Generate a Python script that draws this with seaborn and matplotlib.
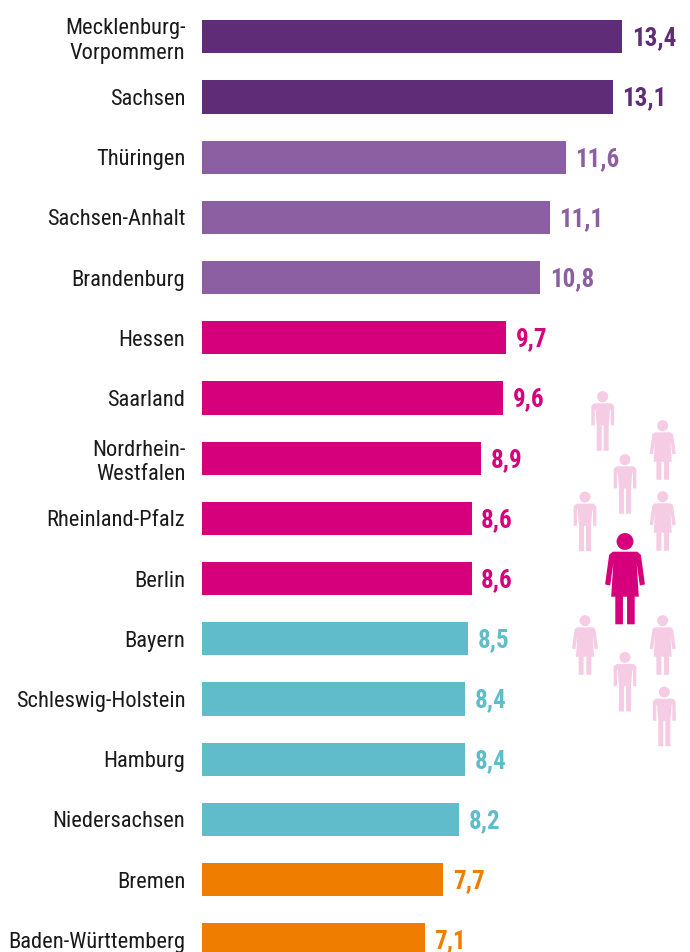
import matplotlib
matplotlib.use('Agg')
import matplotlib.pyplot as plt
from matplotlib.patches import Circle, Polygon
import pandas as pd
import seaborn as sns

states = ['Mecklenburg-\nVorpommern', 'Sachsen', 'Thüringen', 'Sachsen-Anhalt', 'Brandenburg',
          'Hessen', 'Saarland', 'Nordrhein-\nWestfalen', 'Rheinland-Pfalz', 'Berlin', 'Bayern',
          'Schleswig-Holstein', 'Hamburg', 'Niedersachsen', 'Bremen', 'Baden-Württemberg']
values = [13.4, 13.1, 11.6, 11.1, 10.8, 9.7, 9.6, 8.9, 8.6, 8.6, 8.5, 8.4, 8.4, 8.2, 7.7, 7.1]
groups = ['a', 'a', 'b', 'b', 'b', 'c', 'c', 'c', 'c', 'c', 'd', 'd', 'd', 'd', 'e', 'e']
palette = {'a': '#5f2d78', 'b': '#8b5fa1', 'c': '#d6007d', 'd': '#60bccb', 'e': '#ef7d00'}
pale = '#f6cce4'

W, H = 690, 952
sns.set_style('white')
plt.rcParams['font.family'] = ['Roboto Condensed', 'DejaVu Sans']
df = pd.DataFrame({'state': states, 'value': values, 'group': groups})

fig = plt.figure(figsize=(W / 100, H / 100), dpi=100)
ax = fig.add_axes([202 / W, 0, (W - 202) / W, 1])
sns.barplot(data=df, x='value', y='state', hue='group', palette=palette, dodge=False,
            width=0.55, saturation=1, legend=False, linewidth=0, ax=ax)
ax.set_xlim(0, (W - 202) / 31.34)
ax.set_ylim((H - 36.8) / 60.2, -36.8 / 60.2)
ax.set_xlabel('')
ax.set_ylabel('')
ax.set_xticks([])
ax.tick_params(axis='y', length=0, pad=12, labelsize=16.2, labelcolor='#1a1a1a')
for label in ax.get_yticklabels():
    label.set_linespacing(1.2)
sns.despine(ax=ax, left=True, bottom=True)

group_names = list(dict.fromkeys(groups))
for container, name in zip(ax.containers, group_names):
    texts = ax.bar_label(container, fmt=lambda v: f'{v:.1f}'.replace('.', ','), padding=7,
                         color=palette[name], fontsize=18, fontweight='bold')
    for t in texts:
        t.xyann = (t.xyann[0], -1.2)


# overlay in pixels for the little people
over = fig.add_axes([0, 0, 1, 1], zorder=5)
over.set_xlim(0, W)
over.set_ylim(H, 0)
over.axis('off')


def person(cx, top, height, color, female):
    k = height / 178
    if female:
        body = [(-24, 36), (24, 36), (31, 42), (39, 100), (29, 102), (23, 60), (27, 124), (19, 124),
                (19, 178), (4, 178), (4, 124), (-4, 124), (-4, 178), (-19, 178), (-19, 124),
                (-27, 124), (-23, 60), (-29, 102), (-39, 100), (-31, 42)]
    else:
        body = [(-26, 36), (26, 36), (34, 44), (34, 102), (24, 102), (24, 54), (22, 54), (18, 102),
                (18, 178), (3, 178), (3, 102), (-3, 102), (-3, 178), (-18, 178), (-18, 102),
                (-22, 54), (-24, 54), (-24, 102), (-34, 102), (-34, 44)]
    pts = [(cx + x * k, top + y * k) for x, y in body]
    over.add_patch(Polygon(pts, closed=True, fc=color, ec='none'))
    over.add_patch(Circle((cx, top + 16 * k), 16.5 * k, fc=color, ec='none'))


for cx, top in [(602.7, 391.3), (625, 454.3), (585, 491.7), (625, 652), (664.3, 686.7)]:
    person(cx, top, 59.5, pale, False)
for cx, top in [(662.7, 420.3), (662.7, 491.3), (585, 615.3), (662.7, 615.3)]:
    person(cx, top, 59.5, pale, True)
person(625, 533.3, 91, '#d6007d', True)

fig.savefig('out.png', dpi=100)
